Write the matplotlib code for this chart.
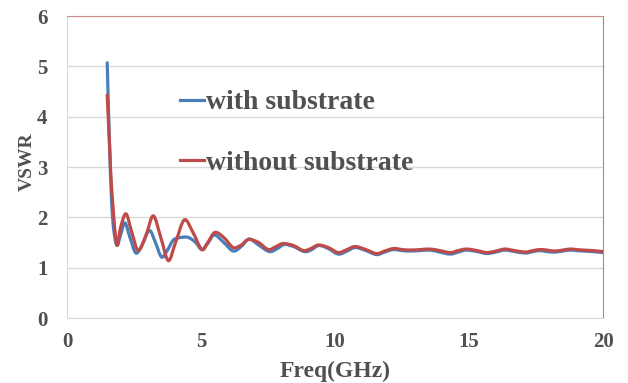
import numpy as np
import matplotlib.pyplot as plt
from matplotlib.path import Path
from matplotlib.patches import PathPatch
from matplotlib.lines import Line2D

# ========== DATA ==========
freq_with = [1.5, 1.6, 1.7, 1.85, 2.0, 2.16, 2.35, 2.57, 2.8, 3.07, 3.3, 3.53, 3.75, 3.97,
             4.25, 4.53, 4.8, 5.03, 5.25, 5.5, 5.85, 6.2, 6.5, 6.8, 7.15, 7.55, 7.85,
             8.1, 8.45, 8.85, 9.1, 9.4, 9.75, 10.12, 10.45, 10.75, 11.15, 11.55, 11.85,
             12.18, 12.5, 12.8, 13.2, 13.55, 13.9, 14.3, 14.6, 14.9, 15.3, 15.66, 16.0,
             16.34, 16.7, 17.1, 17.4, 17.65, 17.9, 18.2, 18.5, 18.77, 19.0, 19.27, 19.6, 20.0]
vswr_with = [5.07, 3.2, 2.0, 1.45, 1.65, 1.89, 1.6, 1.29, 1.45, 1.74, 1.5, 1.21, 1.35, 1.55,
             1.6, 1.6, 1.5, 1.36, 1.48, 1.65, 1.5, 1.33, 1.42, 1.57, 1.45, 1.32, 1.38,
             1.46, 1.42, 1.32, 1.35, 1.44, 1.38, 1.27, 1.33, 1.40, 1.34, 1.26, 1.31,
             1.36, 1.34, 1.33, 1.34, 1.35, 1.31, 1.27, 1.31, 1.35, 1.32, 1.28, 1.31,
             1.35, 1.32, 1.29, 1.32, 1.34, 1.32, 1.31, 1.33, 1.35, 1.34, 1.33, 1.32, 1.30]

freq_without = [1.5, 1.6, 1.67, 1.85, 2.0, 2.2, 2.42, 2.66, 2.95, 3.22, 3.5, 3.78, 4.05,
                4.38, 4.7, 5.03, 5.25, 5.52, 5.85, 6.2, 6.5, 6.77, 7.15, 7.51, 7.8, 8.07,
                8.45, 8.82, 9.1, 9.38, 9.75, 10.12, 10.45, 10.75, 11.15, 11.55, 11.85,
                12.18, 12.5, 12.8, 13.2, 13.55, 13.9, 14.3, 14.6, 14.9, 15.3, 15.66, 16.0,
                16.34, 16.7, 17.1, 17.4, 17.65, 17.9, 18.2, 18.5, 18.77, 19.0, 19.27, 19.6, 20.0]
vswr_without = [4.43, 3.3, 2.54, 1.47, 1.8, 2.07, 1.7, 1.34, 1.65, 2.03, 1.6, 1.14, 1.5,
                1.95, 1.7, 1.36, 1.5, 1.70, 1.6, 1.40, 1.45, 1.56, 1.5, 1.36, 1.42, 1.48,
                1.44, 1.34, 1.38, 1.45, 1.4, 1.30, 1.36, 1.42, 1.36, 1.28, 1.33,
                1.38, 1.36, 1.35, 1.36, 1.37, 1.34, 1.30, 1.34, 1.37, 1.34, 1.30, 1.33,
                1.37, 1.34, 1.31, 1.34, 1.36, 1.35, 1.33, 1.35, 1.37, 1.36, 1.35, 1.34, 1.32]

series_names = ['with substrate', 'without substrate']
x_ticks = [0, 5, 10, 15, 20]
y_ticks = [0, 1, 2, 3, 4, 5, 6]


# сглаженная линия как в Excel (кривые Безье через точки данных)
def smooth_path(xs, ys):
    p = np.column_stack([xs, ys])
    ext = np.vstack([p[0], p, p[-1]])
    verts = [p[0]]
    codes = [Path.MOVETO]
    for i in range(len(p) - 1):
        p0, p1, p2, p3 = ext[i], ext[i + 1], ext[i + 2], ext[i + 3]
        verts += [p1 + (p2 - p0) / 6, p2 - (p3 - p1) / 6, p2]
        codes += [Path.CURVE4] * 3
    return Path(verts, codes)


plt.rcParams['font.family'] = 'Liberation Serif'
plt.rcParams['font.weight'] = 'bold'
text_color = '#505050'
blue = '#4a7ebb'
red = '#be4b48'

fig = plt.figure(figsize=(6.28, 3.83), dpi=100)
ax = fig.add_axes([0.1067, 0.1697, 0.8535, 0.7885])

for xs, ys, c in [(freq_with, vswr_with, blue), (freq_without, vswr_without, red)]:
    ax.add_patch(PathPatch(smooth_path(xs, ys), facecolor='none', edgecolor=c,
                           linewidth=2.3, capstyle='round', joinstyle='round'))

ax.set_xlim(0, 20)
ax.set_ylim(0, 6)
ax.set_xticks(x_ticks)
ax.set_yticks(y_ticks)
ax.yaxis.grid(True, color='#d9d9d9', linewidth=1)
ax.set_axisbelow(True)
ax.tick_params(length=0, labelsize=15, labelcolor=text_color)
ax.tick_params(axis='y', pad=14)
ax.tick_params(axis='x', pad=10)
for lbl in ax.get_xticklabels() + ax.get_yticklabels():
    lbl.set_fontweight('bold')

ax.spines['left'].set_color('#d9d9d9')
ax.spines['bottom'].set_color('#d9d9d9')
ax.spines['top'].set_color('#c98f8f')
ax.spines['right'].set_color('#b88080')

ax.set_xlabel('Freq(GHz)', fontsize=17, fontweight='bold', color=text_color)
ax.set_ylabel('VSWR', fontsize=14, fontweight='bold', color=text_color)
ax.xaxis.set_label_coords(0.5, -0.143)
ax.yaxis.set_label_coords(-0.058, 0.517)

handles = [Line2D([], [], color=blue, linewidth=2.3), Line2D([], [], color=red, linewidth=2.3)]
leg = ax.legend(handles, series_names, loc='upper left', bbox_to_anchor=(0.19, 0.792),
                frameon=False, prop={'family': 'Liberation Serif', 'size': 20, 'weight': 'bold'},
                handlelength=0.85, handletextpad=0.1, labelspacing=1.25, borderaxespad=0)
for t in leg.get_texts():
    t.set_color(text_color)

fig.savefig('out.png', dpi=100)
